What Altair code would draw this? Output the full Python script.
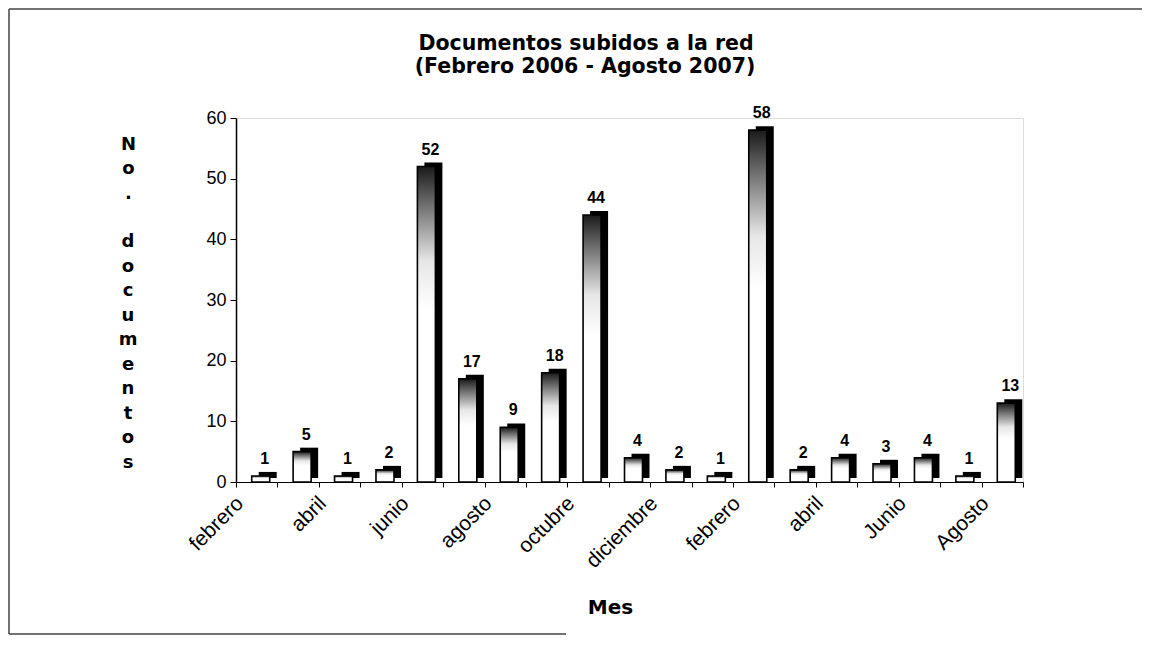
import json
import altair as alt
import pandas as pd

# ---- data ----
months = ["febrero", "marzo", "abril", "mayo", "junio", "julio", "agosto",
          "septiembre", "octubre", "noviembre", "diciembre",
          "enero", "febrero", "marzo", "abril", "mayo", "junio", "julio", "agosto"]
years = [2006] * 11 + [2007] * 8
values = [1, 5, 1, 2, 52, 17, 9, 18, 44, 4, 2, 1, 58, 2, 4, 3, 4, 1, 13]
tick_labels = ["febrero", "", "abril", "", "junio", "", "agosto", "", "octubre", "",
               "diciembre", "", "febrero", "", "abril", "", "Junio", "", "Agosto"]
y_ticks = [0, 10, 20, 30, 40, 50, 60]
title_lines = ["Documentos subidos a la red", "(Febrero 2006 - Agosto 2007)"]
y_title_a = ["N", "o", "."]
y_title_b = ["d", "o", "c", "u", "m", "e", "n", "t", "o", "s"]
x_title = "Mes"

df = pd.DataFrame({
    "idx": list(range(len(values))),
    "mes": months,
    "anio": years,
    "docs": values,
})

W, H = 787, 364
label_expr = f"{json.dumps(tick_labels)}[datum.value]"

x_enc = alt.X(
    "idx:O",
    scale=alt.Scale(paddingInner=0, paddingOuter=0),
    axis=alt.Axis(
        tickBand="extent",
        labelExpr=label_expr,
        labelAngle=315,
        labelAlign="right",
        labelBaseline="middle",
        labelPadding=13,
        labelOffset=-17,
        labelFont="Liberation Sans",
        labelFontSize=21,
        labelColor="black",
        labelOverlap=False,
        tickSize=5,
        tickColor="black",
        domainColor="black",
        domainWidth=1,
        title=x_title,
        titleFont="DejaVu Sans",
        titleFontSize=20,
        titleFontWeight="bold",
        titleColor="black",
        titleX=374,
        titleY=125,
        titleAlign="center",
        titleBaseline="middle",
    ),
)
y_enc = alt.Y(
    "docs:Q",
    scale=alt.Scale(domain=[0, 60], nice=False),
    axis=alt.Axis(
        values=y_ticks,
        grid=False,
        labelFont="Liberation Sans",
        labelFontSize=18,
        labelColor="black",
        labelPadding=4,
        tickSize=6,
        tickColor="black",
        domainColor="black",
        domainWidth=1.5,
        title=y_title_a,
        titleAngle=0,
        titleFont="DejaVu Sans",
        titleFontSize=18,
        titleFontWeight="bold",
        titleColor="black",
        titleLineHeight=24.5,
        titleX=-108,
        titleY=17,
        titleAlign="center",
        titleBaseline="top",
    ),
)

base = alt.Chart(df)

front_fill = alt.Gradient(
    gradient="linear",
    x1=0, x2=0, y1=0, y2=1,
    stops=[
        alt.GradientStop(color="#1a1a1a", offset=0),
        alt.GradientStop(color="#6e6e6e", offset=0.12),
        alt.GradientStop(color="#e6e6e6", offset=0.3),
        alt.GradientStop(color="white", offset=0.45),
        alt.GradientStop(color="white", offset=1),
    ],
)

depth = base.mark_bar(size=18, color="black", xOffset=11, yOffset=-4).encode(
    x=x_enc, y=y_enc
)
front = base.mark_bar(size=18, fill=front_fill, stroke="black", strokeWidth=1.6,
                      xOffset=4).encode(x=x_enc, y=y_enc)
labels = base.mark_text(font="Liberation Sans", fontSize=16, fontWeight="bold",
                        color="black", baseline="alphabetic", dx=8, dy=-12).encode(
    x=x_enc, y=y_enc, text="docs:Q"
)

single = pd.DataFrame({"k": [0]})

# second part of the stacked y-axis title ("documentos"), after the blank line
y_title_rest = alt.Chart(single).mark_text(
    text=y_title_b, lineHeight=24.5, font="DejaVu Sans", fontSize=18,
    fontWeight="bold", color="black", align="center", baseline="top"
).encode(x=alt.value(-108), y=alt.value(115))

title1 = alt.Chart(pd.DataFrame({"t": [title_lines[0]]})).mark_text(
    font="DejaVu Sans", fontSize=20.5, fontWeight="bold", color="black",
    align="center", baseline="middle"
).encode(x=alt.value(350), y=alt.value(-74), text="t:N")
title2 = alt.Chart(pd.DataFrame({"t": [title_lines[1]]})).mark_text(
    font="DejaVu Sans", fontSize=20.5, fontWeight="bold", color="black",
    align="center", baseline="middle"
).encode(x=alt.value(349), y=alt.value(-51), text="t:N")

frame_top = alt.Chart(single).mark_rule(color="#444", strokeWidth=1.5).encode(
    x=alt.value(-227), x2=alt.value(906), y=alt.value(-109)
)
frame_left = alt.Chart(single).mark_rule(color="#444", strokeWidth=1.5).encode(
    x=alt.value(-227), y=alt.value(-109), y2=alt.value(516)
)
frame_bottom = alt.Chart(single).mark_rule(color="#444", strokeWidth=1.5).encode(
    x=alt.value(-227), x2=alt.value(330), y=alt.value(516)
)

chart = alt.layer(frame_top, frame_left, frame_bottom, title1, title2, y_title_rest,
                  depth, front, labels).properties(
    width=W,
    height=H,
    autosize=alt.AutoSizeParams(type="none"),
    padding={"left": 228, "top": 110, "right": 120, "bottom": 154},
).configure_view(stroke=None).configure(background="white")

chart.save("out.html", embed_options={"renderer": "svg", "actions": False})
